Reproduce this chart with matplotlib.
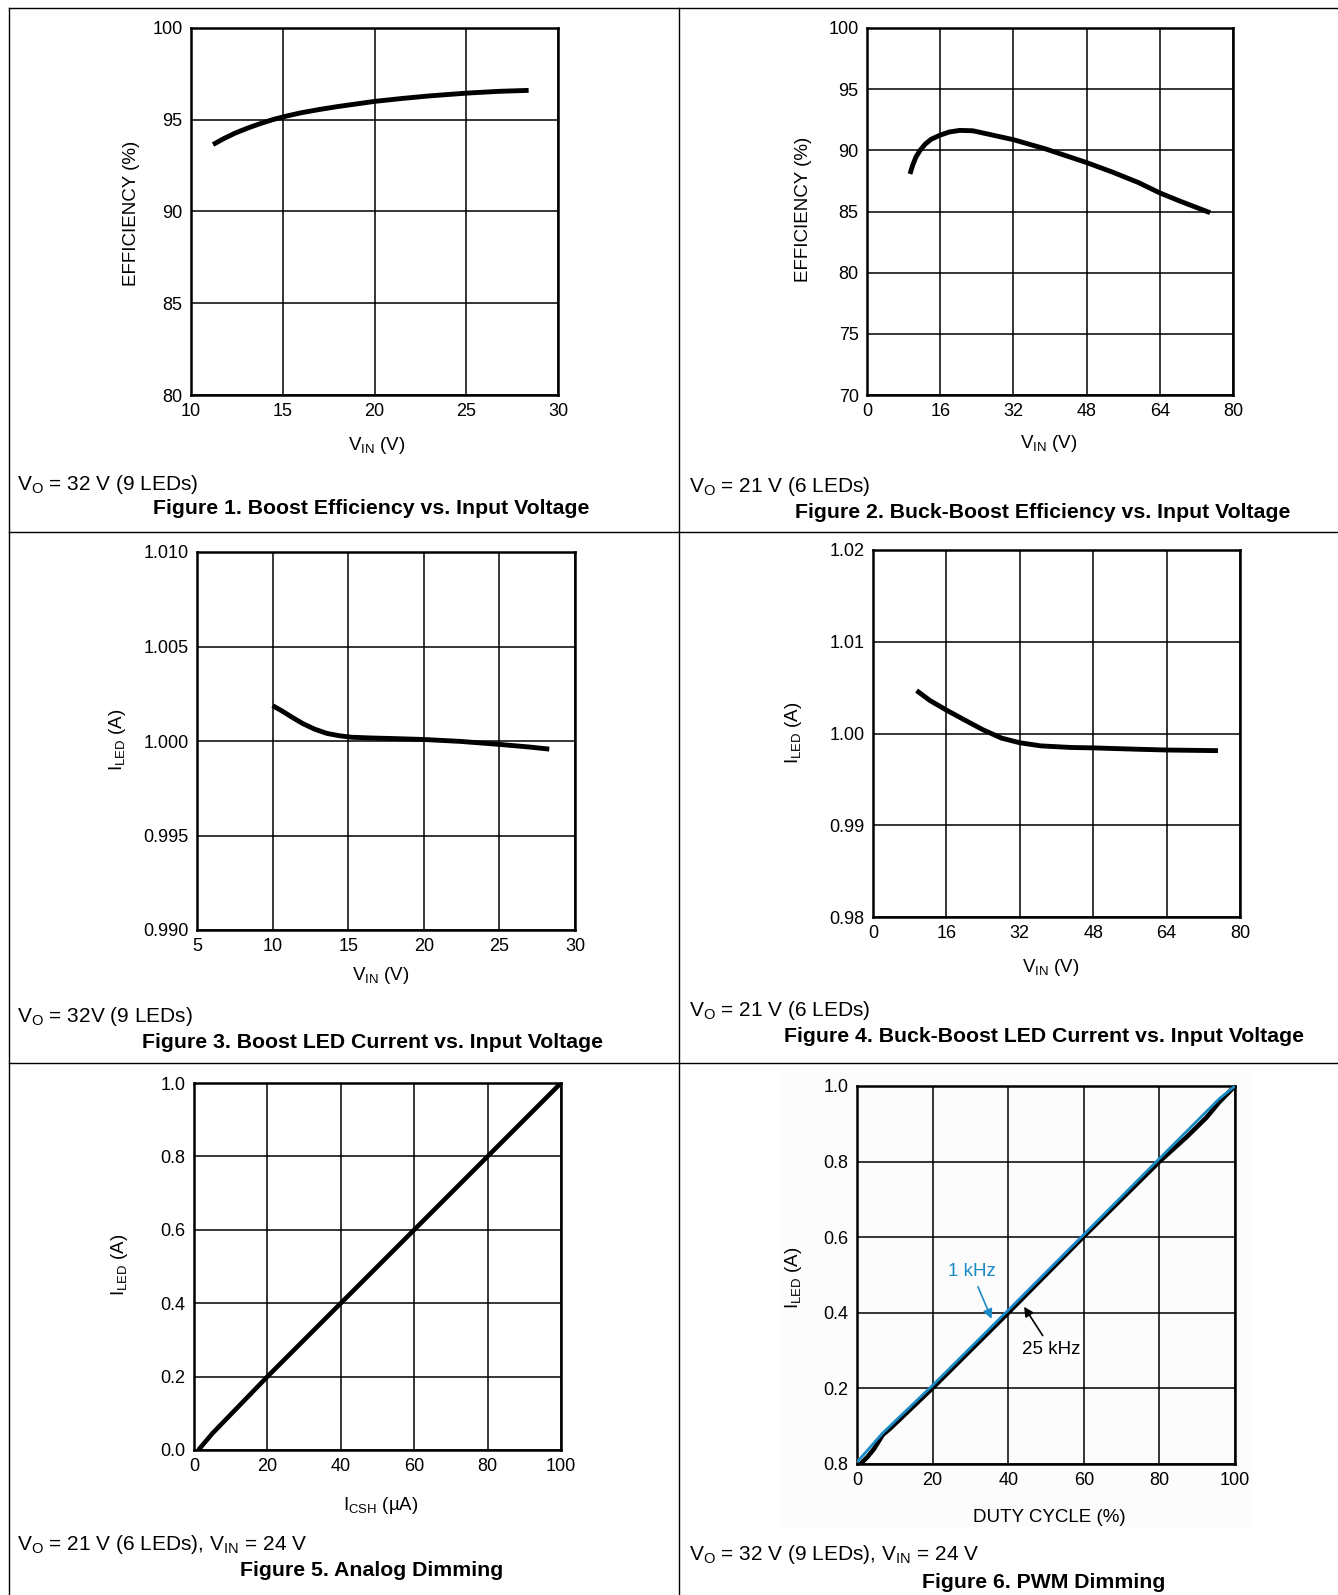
import matplotlib
matplotlib.use("Agg")
import matplotlib.pyplot as plt

W, H = 1338, 1595

plt.rcParams.update({
    "font.family": ["Liberation Sans", "DejaVu Sans"],
    "mathtext.fontset": "custom",
    "mathtext.rm": "Liberation Sans",
    "axes.linewidth": 1.8,
})

# ---- data ----
# Figure 1: boost efficiency
f1_vin = [11.2, 11.8, 12.4, 13.1, 13.8, 14.5, 15.2, 16.0, 17.0, 18.0, 19.0,
          20.0, 21.5, 23.0, 25.0, 26.8, 28.4]
f1_eff = [93.65, 93.98, 94.27, 94.55, 94.8, 95.02, 95.2, 95.38, 95.56, 95.72,
          95.86, 96.0, 96.16, 96.3, 96.45, 96.55, 96.6]

# Figure 2: buck-boost efficiency
f2_vin = [9.4, 10.0, 10.7, 11.6, 12.7, 14.0, 15.9, 18.0, 20.3, 23.1, 26.8, 32.0,
          38.9, 48.0, 53.8, 59.3, 64.0, 68.6, 75.0]
f2_eff = [88.07, 88.8, 89.45, 90.0, 90.5, 90.9, 91.23, 91.5, 91.63, 91.6, 91.3,
          90.87, 90.13, 89.0, 88.2, 87.37, 86.52, 85.82, 84.9]

# Figure 3: boost LED current
f3_vin = [10.0, 10.6, 11.3, 12.0, 12.8, 13.6, 14.4, 15.2, 16.5, 18.0, 20.0,
          22.4, 25.0, 27.0, 28.3]
f3_iled = [1.00187, 1.0016, 1.00125, 1.00092, 1.00062, 1.0004, 1.00028, 1.0002,
           1.00016, 1.00013, 1.00008, 0.99998, 0.99982, 0.99968, 0.99957]

# Figure 4: buck-boost LED current
f4_vin = [9.5, 12.4, 16.0, 20.8, 24.0, 28.0, 32.0, 36.6, 43.0, 48.1, 57.9, 64.0, 75.2]
f4_iled = [1.00468, 1.0036, 1.00255, 1.00125, 1.0004, 0.9995, 0.99899, 0.99865,
           0.99848, 0.99843, 0.99828, 0.9982, 0.99813]

# Figure 5: analog dimming
f5_icsh = [1.2, 5.0, 20.0, 40.0, 60.0, 80.0, 100.0]
f5_iled = [0.0, 0.045, 0.2, 0.4, 0.6, 0.8, 1.0]

# Figure 6: PWM dimming
f6_duty_1k = [0.0, 6.8, 20.0, 40.0, 60.0, 80.0, 95.8, 100.0]
f6_iled_1k = [0.005, 0.082, 0.208, 0.407, 0.607, 0.808, 0.966, 1.0]
f6_duty_25k = [0.9, 2.8, 4.5, 6.8, 9.0, 20.0, 40.0, 60.0, 80.0, 87.3, 92.4, 95.8, 100.0]
f6_iled_25k = [0.0, 0.019, 0.04, 0.077, 0.096, 0.201, 0.40, 0.602, 0.80, 0.866,
               0.916, 0.957, 1.0]

BLUE = "#1b8bc7"

fig = plt.figure(figsize=(W / 100, H / 100), dpi=100)

# background overlay in pixel coordinates
bg = fig.add_axes([0, 0, 1, 1])
bg.set_xlim(0, W)
bg.set_ylim(H, 0)
bg.axis("off")
bg.add_patch(plt.Rectangle((780, 1072), 472, 455, color="#fcfcfc", lw=0, zorder=0))
for (x0, y0, x1, y1) in [(9, 8, W, 8), (9, 532, W, 532), (9, 1063, W, 1063),
                         (9, 8, 9, H), (679, 8, 679, H)]:
    bg.plot([x0, x1], [y0, y1], color="black", lw=1.0)


def make_ax(x0, y0, x1, y1):
    ax = fig.add_axes([x0 / W, 1 - y1 / H, (x1 - x0) / W, (y1 - y0) / H])
    ax.set_facecolor("none")
    ax.grid(True, color="black", lw=1.1)
    ax.tick_params(length=0, labelsize=13, pad=6)
    for s in ax.spines.values():
        s.set_color("black")
    return ax


def curve(ax, x, y, **kw):
    kw.setdefault("color", "black")
    kw.setdefault("lw", 3.5)
    ax.plot(x, y, solid_capstyle="butt", solid_joinstyle="round", **kw)


def texts(ylab, ylab_xy, xlab, xlab_xy, note, note_xy, cap, cap_xy):
    bg.text(*ylab_xy, ylab, rotation=90, ha="center", va="center", fontsize=13.5)
    bg.text(*xlab_xy, xlab, ha="center", va="center", fontsize=13.5)
    bg.text(*note_xy, note, ha="left", va="center", fontsize=15)
    bg.text(*cap_xy, cap, ha="center", va="center", fontsize=15.3, fontweight="bold")


VIN = r"$\mathregular{V_{IN}}$ (V)"
ILED = r"$\mathregular{I_{LED}}$ (A)"

# ---- Figure 1 ----
ax = make_ax(191, 28, 558, 395)
curve(ax, f1_vin, f1_eff)
ax.set_xlim(10, 30)
ax.set_ylim(80, 100)
ax.set_xticks([10, 15, 20, 25, 30])
ax.set_yticks([80, 85, 90, 95, 100])
texts("EFFICIENCY (%)", (132, 213), VIN, (377, 445),
      r"$\mathregular{V_O}$ = 32 V (9 LEDs)", (17, 485),
      "Figure 1. Boost Efficiency vs. Input Voltage", (371, 509))

# ---- Figure 2 ----
ax = make_ax(867, 28, 1233, 395)
curve(ax, f2_vin, f2_eff)
ax.set_xlim(0, 80)
ax.set_ylim(70, 100)
ax.set_xticks([0, 16, 32, 48, 64, 80])
ax.set_yticks([70, 75, 80, 85, 90, 95, 100])
texts("EFFICIENCY (%)", (804, 209), VIN, (1049, 444),
      r"$\mathregular{V_O}$ = 21 V (6 LEDs)", (689, 487),
      "Figure 2. Buck-Boost Efficiency vs. Input Voltage", (1043, 513))

# ---- Figure 3 ----
ax = make_ax(197, 552, 575, 930)
curve(ax, f3_vin, f3_iled)
ax.set_xlim(5, 30)
ax.set_ylim(0.990, 1.010)
ax.set_xticks([5, 10, 15, 20, 25, 30])
ax.set_yticks([0.990, 0.995, 1.000, 1.005, 1.010])
ax.set_yticklabels(["0.990", "0.995", "1.000", "1.005", "1.010"])
texts(ILED, (117, 740), VIN, (381, 975),
      r"$\mathregular{V_O}$ = 32V (9 LEDs)", (17, 1017),
      "Figure 3. Boost LED Current vs. Input Voltage", (372, 1043))

# ---- Figure 4 ----
ax = make_ax(873, 550, 1240, 917)
curve(ax, f4_vin, f4_iled)
ax.set_xlim(0, 80)
ax.set_ylim(0.98, 1.02)
ax.set_xticks([0, 16, 32, 48, 64, 80])
ax.set_yticks([0.98, 0.99, 1.00, 1.01, 1.02])
ax.set_yticklabels(["0.98", "0.99", "1.00", "1.01", "1.02"])
texts(ILED, (794, 733), VIN, (1051, 967),
      r"$\mathregular{V_O}$ = 21 V (6 LEDs)", (689, 1010),
      "Figure 4. Buck-Boost LED Current vs. Input Voltage", (1044, 1036))

# ---- Figure 5 ----
ax = make_ax(194, 1083, 561, 1450)
curve(ax, f5_icsh, f5_iled, lw=3.3)
ax.set_xlim(0, 100)
ax.set_ylim(0, 1.0)
ax.set_xticks([0, 20, 40, 60, 80, 100])
ax.set_yticks([0.0, 0.2, 0.4, 0.6, 0.8, 1.0])
ax.set_yticklabels(["0.0", "0.2", "0.4", "0.6", "0.8", "1.0"])
texts(ILED, (119, 1265), r"$\mathregular{I_{CSH}}$ (µA)", (381, 1505),
      r"$\mathregular{V_O}$ = 21 V (6 LEDs), $\mathregular{V_{IN}}$ = 24 V", (17, 1544),
      "Figure 5. Analog Dimming", (372, 1570))

# ---- Figure 6 ----
ax = make_ax(857, 1086, 1235, 1464)
curve(ax, f6_duty_25k, f6_iled_25k, lw=3.3, zorder=3)
curve(ax, f6_duty_1k, f6_iled_1k, color=BLUE, lw=2.0, zorder=4)
ax.set_xlim(0, 100)
ax.set_ylim(0, 1.0)
ax.set_xticks([0, 20, 40, 60, 80, 100])
ax.set_yticks([0.0, 0.2, 0.4, 0.6, 0.8, 1.0])
ax.set_yticklabels(["0.8", "0.2", "0.4", "0.6", "0.8", "1.0"])
ax.annotate("1 kHz", xy=(35.6, 0.384), xytext=(30.3, 0.509), color=BLUE,
            fontsize=13.5, ha="center", va="center", zorder=6,
            arrowprops=dict(arrowstyle="-|>", color=BLUE, lw=1.2,
                            mutation_scale=14, shrinkA=3, shrinkB=0))
ax.annotate("25 kHz", xy=(44.2, 0.416), xytext=(51.5, 0.303), color="black",
            fontsize=13.5, ha="center", va="center", zorder=6,
            bbox=dict(boxstyle="square,pad=0.1", fc="white", ec="none"),
            arrowprops=dict(arrowstyle="-|>", color="black", lw=1.2,
                            mutation_scale=14, shrinkA=3, shrinkB=0))
texts(ILED, (794, 1278), "DUTY CYCLE (%)", (1049, 1517),
      r"$\mathregular{V_O}$ = 32 V (9 LEDs), $\mathregular{V_{IN}}$ = 24 V", (689, 1555),
      "Figure 6. PWM Dimming", (1044, 1582))

fig.savefig("out.png", dpi=100)
